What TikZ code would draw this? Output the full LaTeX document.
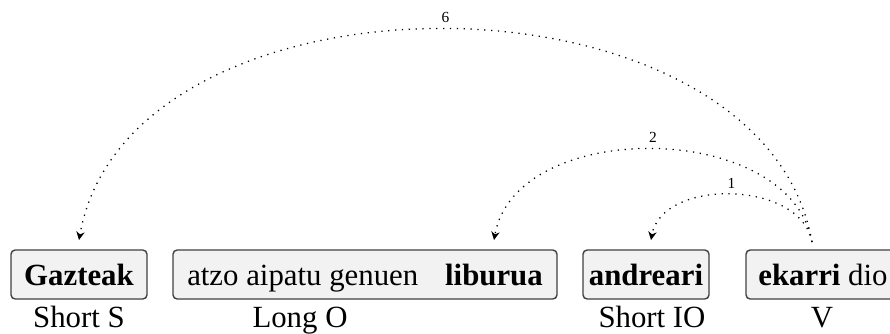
\documentclass[tikz,border=0pt]{standalone}
\usepackage{fontspec}
\setmainfont{Liberation Serif}
\usetikzlibrary{arrows.meta}
\tikzset{
  wfont/.style={font=\fontsize{11}{13.6}\selectfont},
  wbox/.style={wfont, draw=black!75, fill=black!5, rounded corners=1.5pt, inner xsep=2pt, inner ysep=0pt,
    text height=12.5pt, text depth=5pt, anchor=base, line width=0.5pt},
  lab/.style={wfont, anchor=base, inner sep=0pt},
  dep/.style={dotted, line width=0.45pt, -{Stealth[length=3pt,width=3pt]}, out=100, in=80},
  num/.style={font=\fontsize{5.5}{6}\selectfont, above, inner sep=2pt}
}
\begin{document}
\begin{tikzpicture}[x=0.357pt,y=0.357pt]
\useasboundingbox (0,0) rectangle (890,333);
\node[wbox, minimum width=136*0.357pt] (S) at (79,48) {\textbf{Gazteak}};
\node[wbox, minimum width=384*0.357pt] (O) at (365,48) {atzo aipatu genuen\hspace{9.6pt}\textbf{liburua}};
\node[wbox, minimum width=126*0.357pt] (IO) at (646,48) {\textbf{andreari}};
\node[wbox, minimum width=154*0.357pt] (V) at (823,48) {\textbf{ekarri} dio};
\node[lab] (lS) at (79,6) {Short S};
\node[lab] (lO) at (300,6) {Long O};
\node[lab] (lIO) at (652,6) {Short IO};
\node[lab] (lV) at (822,6) {V};
\coordinate (vs) at (812,91);
\coordinate (ts) at (79,93);
\coordinate (to) at (494,93);
\coordinate (tio) at (651,93);
\draw[dep] (vs) to node[num]{1} (tio);
\draw[dep] (vs) to node[num]{2} (to);
\draw[dep] (vs) to node[num]{6} (ts);
\end{tikzpicture}
\end{document}
